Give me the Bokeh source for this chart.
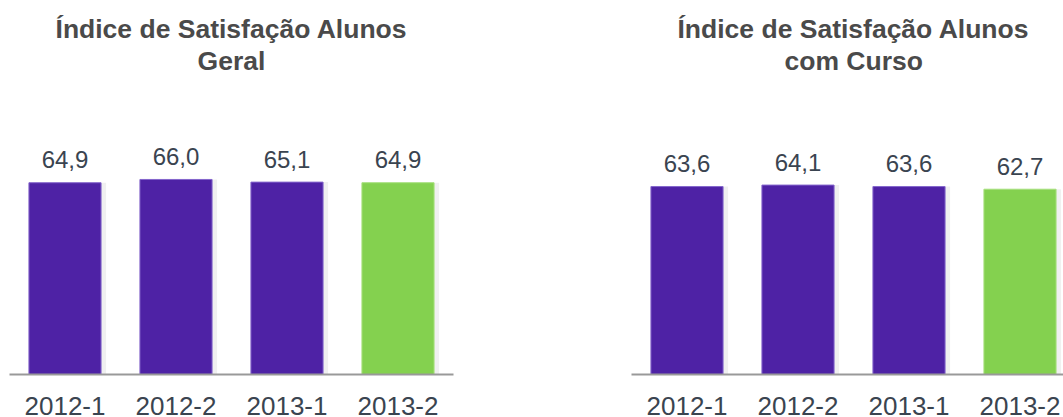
from bokeh.plotting import figure
from bokeh.models import Range1d, FixedTicker, Title, ColumnDataSource
from bokeh.layouts import row
from bokeh.embed import file_html
from bokeh.resources import INLINE
from bokeh.core.properties import value

categories = ["2012-1", "2012-2", "2013-1", "2013-2"]
geral_values = [64.9, 66.0, 65.1, 64.9]
curso_values = [63.6, 64.1, 63.6, 62.7]
value_labels_geral = ["64,9", "66,0", "65,1", "64,9"]
value_labels_curso = ["63,6", "64,1", "63,6", "62,7"]
bar_colors = ["#4E22A5", "#4E22A5", "#4E22A5", "#84D14F"]
edge_colors = ["#8466CC", "#8466CC", "#8466CC", "#A8E07E"]
title_lines_geral = ["Índice de Satisfação Alunos", "Geral"]
title_lines_curso = ["Índice de Satisfação Alunos", "com Curso"]

PX_PER_BAND = 111.0
FRAME_TOP = 75
FRAME_BOTTOM = 375
HEIGHT = 417
Y_END = (FRAME_BOTTOM - FRAME_TOP) / 2.965


def make_chart(values, labels, title_lines, width, border_left, border_right, title_align, title_offsets):
    frame_w = width - border_left - border_right
    xs = [i + 1 for i in range(len(categories))]
    src = ColumnDataSource(dict(
        x=xs, top=values, lab=labels, color=bar_colors, edge=edge_colors,
        xs=[x + 0.025 for x in xs],
    ))
    p = figure(width=width, height=HEIGHT, output_backend="svg", toolbar_location=None,
               x_range=Range1d(0.5, 0.5 + frame_w / PX_PER_BAND), y_range=Range1d(0, Y_END),
               min_border_left=border_left, min_border_right=border_right,
               min_border_top=FRAME_TOP, min_border_bottom=HEIGHT - FRAME_BOTTOM)
    p.outline_line_color = None
    p.background_fill_color = "white"
    p.border_fill_color = "white"
    p.xgrid.visible = False
    p.ygrid.visible = False
    p.yaxis.visible = False

    # soft shadow
    p.vbar(x="xs", top="top", bottom=-0.6, width=0.69, source=src,
           fill_color="#000000", fill_alpha=0.06, line_color=None)
    p.vbar(x="x", top="top", bottom=0, width=0.65, source=src,
           fill_color="color", line_color="edge", line_width=1)
    p.text(x="x", y="top", text="lab", source=src, text_align="center",
           text_baseline="alphabetic", y_offset=-23,
           text_font=value("Liberation Sans"), text_font_size="24px", text_color="#3A4450")

    xa = p.xaxis[0]
    xa.ticker = FixedTicker(ticks=xs)
    xa.major_label_overrides = {x: c for x, c in zip(xs, categories)}
    xa.major_tick_line_color = None
    xa.minor_tick_line_color = None
    xa.axis_line_color = "#999999"
    xa.axis_line_width = 2
    xa.major_label_standoff = 16
    xa.major_label_text_font = "Liberation Sans"
    xa.major_label_text_font_size = "26px"
    xa.major_label_text_color = "#3A4450"

    p.title.visible = False
    # second line first (closest to plot), then first line above it
    for line, off in [(title_lines[1], title_offsets[1]), (title_lines[0], title_offsets[0])]:
        p.add_layout(Title(text=line, align=title_align, text_font="Liberation Sans",
                           text_font_size="26.5px", text_font_style="bold", text_color="#4A4A4A",
                           standoff=0, offset=off, text_line_height=1.1), "above")
    return p


left = make_chart(geral_values, value_labels_geral, title_lines_geral, 560, 9, 107,
                  "center", (0, 0))
right = make_chart(curso_values, value_labels_curso, title_lines_curso, 503, 71, 0,
                   "left", (46, 153))

layout = row(left, right, spacing=0)
open("out.html", "w").write(file_html(layout, INLINE))
